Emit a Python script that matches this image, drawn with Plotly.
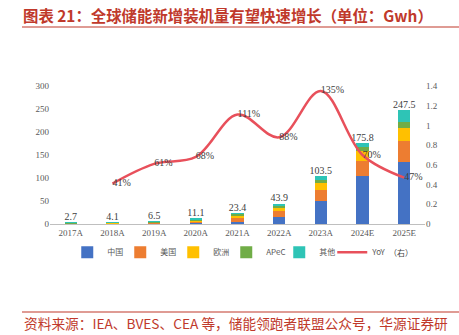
import plotly.graph_objects as go

years = ["2017A", "2018A", "2019A", "2020A", "2021A", "2022A", "2023A", "2024E", "2025E"]
china = [0.3, 0.8, 1.0, 3.0, 4.0, 16.0, 50.0, 104.0, 135.0]
usa = [0.6, 1.0, 1.5, 2.5, 11.0, 12.0, 23.0, 33.0, 46.0]
europe = [0.5, 0.8, 1.0, 2.5, 4.0, 7.0, 17.0, 22.0, 28.0]
apec = [1.1, 1.2, 2.5, 2.0, 3.0, 5.0, 6.5, 9.0, 12.0]
other = [0.2, 0.3, 0.5, 1.1, 1.4, 3.9, 7.0, 7.8, 26.5]
totals = [2.7, 4.1, 6.5, 11.1, 23.4, 43.9, 103.5, 175.8, 247.5]
yoy_years = ["2018A", "2019A", "2020A", "2021A", "2022A", "2023A", "2024E", "2025E"]
yoy = [0.41, 0.61, 0.68, 1.11, 0.88, 1.35, 0.70, 0.47]
yoy_labels = ["41%", "61%", "68%", "111%", "88%", "135%", "70%", "47%"]

series = [("中国", china, "#4472C4"), ("美国", usa, "#ED7D31"), ("欧洲", europe, "#FFC000"),
          ("APeC", apec, "#70AD47"), ("其他", other, "#2EC4B6")]

serif = "Liberation Serif, DejaVu Serif, serif"
tick_font = dict(family=serif, size=9, color="#595959")

fig = go.Figure()
for name, vals, col in series:
    fig.add_trace(go.Bar(x=years, y=vals, name=name, marker_color=col, width=0.3,
                         marker_line_width=0))

fig.add_trace(go.Scatter(x=years, y=totals, mode="text", text=[f"{v:.1f}" for v in totals],
                         textposition="top center", showlegend=False,
                         textfont=dict(family=serif, size=10, color="#404040"),
                         cliponaxis=False))

fig.add_trace(go.Scatter(x=yoy_years, y=yoy, mode="lines+text", name="YoY", yaxis="y2",
                         line=dict(color="#E8505B", width=2.5, shape="spline", smoothing=1.0),
                         text=yoy_labels, textposition="middle right",
                         textfont=dict(family=serif, size=10, color="#404040"),
                         cliponaxis=False))

fig.update_layout(
    width=459, height=335,
    margin=dict(l=50, r=34, t=86, b=111),
    paper_bgcolor="white", plot_bgcolor="white",
    barmode="stack", bargap=0.7,
    showlegend=True,
    legend=dict(orientation="h", x=0.47, xanchor="center", y=-0.1, yanchor="top",
                font=dict(family="Noto Sans CJK SC", size=8, color="#595959"),
                itemwidth=30, entrywidth=8, entrywidthmode="pixels",
                tracegroupgap=0, traceorder="normal", bgcolor="rgba(0,0,0,0)"),
    xaxis=dict(type="category", showline=True, linecolor="#BFBFBF", linewidth=1,
               tickfont=tick_font, ticks="", showgrid=False, tickangle=0),
    yaxis=dict(range=[0, 300], dtick=50, showgrid=False, zeroline=False, showline=False,
               tickfont=tick_font, ticks=""),
    yaxis2=dict(range=[0, 1.4], dtick=0.2, overlaying="y", side="right", showgrid=False,
                zeroline=False, showline=False, tickfont=tick_font, ticks=""),
    annotations=[
        dict(text="<b>图表 21：全球储能新增装机量有望快速增长（单位：Gwh）</b>", xref="paper", yref="paper",
             x=-29 / 375, y=1 + 71 / 138, xanchor="left", yanchor="middle", showarrow=False,
             font=dict(family="Noto Sans CJK SC", size=15.4, color="#C0392B")),
        dict(text="资料来源：IEA、BVES、CEA 等，储能领跑者联盟公众号，华源证券研", xref="paper", yref="paper",
             x=-28 / 375, y=-99 / 138, xanchor="left", yanchor="middle", showarrow=False,
             font=dict(family="Noto Sans CJK SC", size=13.7, color="#C0392B")),
        dict(text="（右）", xref="paper", yref="paper",
             x=(387 - 50) / 375, y=-28 / 138, xanchor="left", yanchor="middle", showarrow=False,
             font=dict(family="Noto Sans CJK SC", size=8, color="#404040")),
    ],
    shapes=[
        dict(type="line", xref="paper", yref="paper", x0=-28 / 375, x1=428 / 375,
             y0=1 + 59 / 138, y1=1 + 59 / 138, line=dict(color="#C0392B", width=1.2)),
        dict(type="line", xref="paper", yref="paper", x0=-28 / 375, x1=428 / 375,
             y0=-88 / 138, y1=-88 / 138, line=dict(color="#C0392B", width=1.2)),
    ],
)

fig.write_html("out.html")
